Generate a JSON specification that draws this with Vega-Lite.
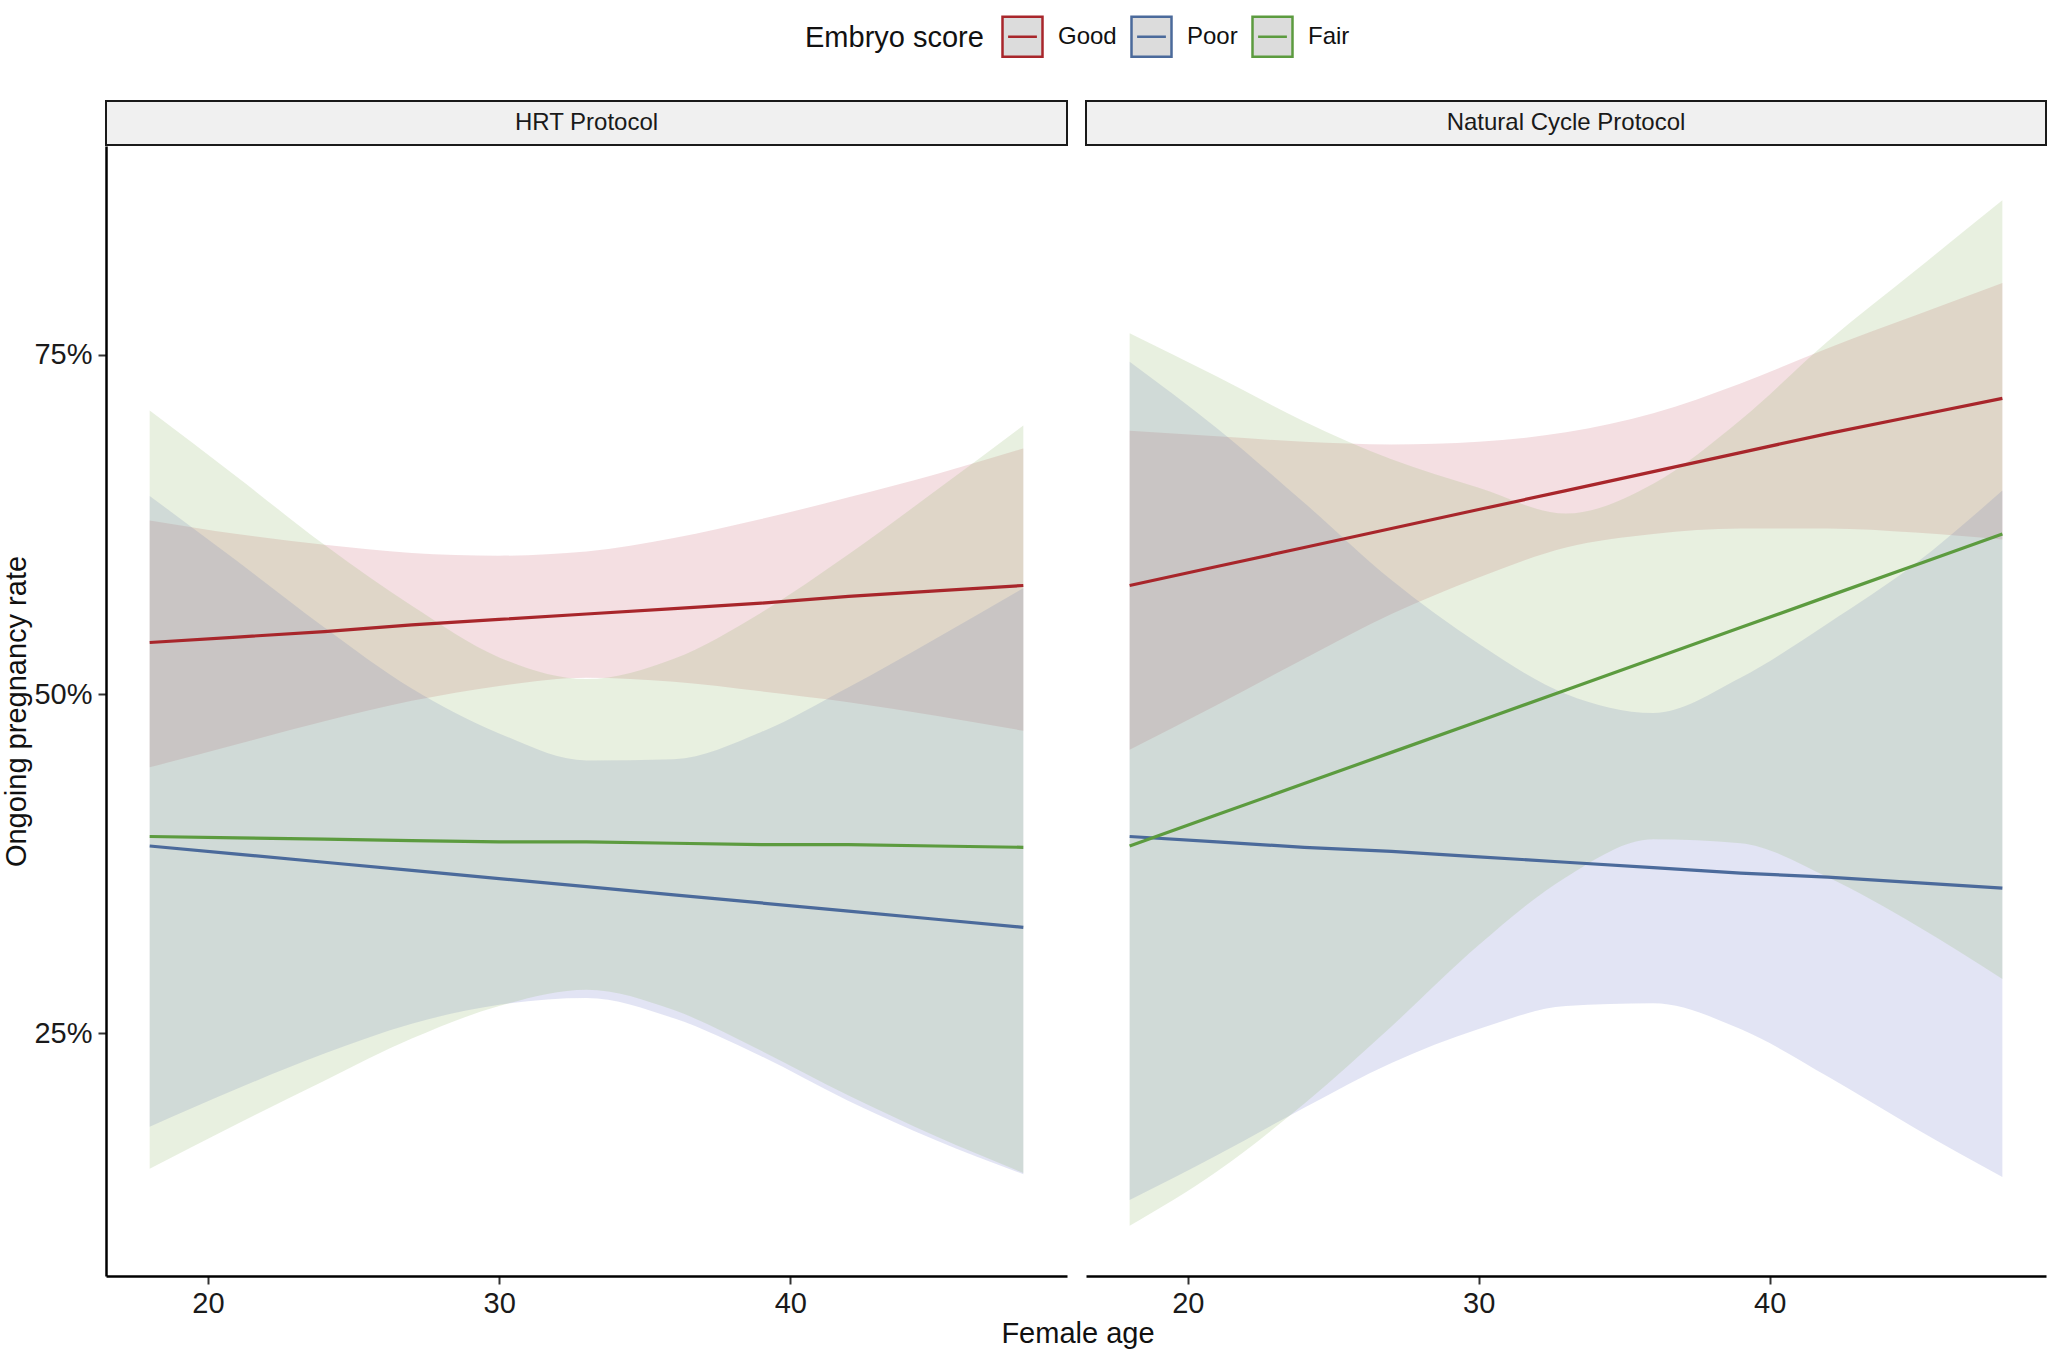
{
  "$schema": "https://vega.github.io/schema/vega-lite/v6.json",
  "padding": {"left": 2, "top": 15, "right": 3, "bottom": 2},
  "background": "white",
  "datasets": {
    "curves": [
      {"protocol": "HRT Protocol", "score": "Good", "age": 18, "fit": 0.538, "lo": 0.446, "hi": 0.628},
      {"protocol": "HRT Protocol", "score": "Good", "age": 21, "fit": 0.542, "lo": 0.463, "hi": 0.618},
      {"protocol": "HRT Protocol", "score": "Good", "age": 24, "fit": 0.546, "lo": 0.480, "hi": 0.610},
      {"protocol": "HRT Protocol", "score": "Good", "age": 27, "fit": 0.551, "lo": 0.495, "hi": 0.604},
      {"protocol": "HRT Protocol", "score": "Good", "age": 30, "fit": 0.555, "lo": 0.506, "hi": 0.602},
      {"protocol": "HRT Protocol", "score": "Good", "age": 33, "fit": 0.559, "lo": 0.512, "hi": 0.605},
      {"protocol": "HRT Protocol", "score": "Good", "age": 36, "fit": 0.563, "lo": 0.509, "hi": 0.615},
      {"protocol": "HRT Protocol", "score": "Good", "age": 39, "fit": 0.567, "lo": 0.502, "hi": 0.629},
      {"protocol": "HRT Protocol", "score": "Good", "age": 42, "fit": 0.572, "lo": 0.494, "hi": 0.645},
      {"protocol": "HRT Protocol", "score": "Good", "age": 45, "fit": 0.576, "lo": 0.484, "hi": 0.662},
      {"protocol": "HRT Protocol", "score": "Good", "age": 48, "fit": 0.580, "lo": 0.473, "hi": 0.681},
      {"protocol": "HRT Protocol", "score": "Poor", "age": 18, "fit": 0.388, "lo": 0.181, "hi": 0.646},
      {"protocol": "HRT Protocol", "score": "Poor", "age": 21, "fit": 0.382, "lo": 0.209, "hi": 0.598},
      {"protocol": "HRT Protocol", "score": "Poor", "age": 24, "fit": 0.376, "lo": 0.235, "hi": 0.549},
      {"protocol": "HRT Protocol", "score": "Poor", "age": 27, "fit": 0.370, "lo": 0.257, "hi": 0.504},
      {"protocol": "HRT Protocol", "score": "Poor", "age": 30, "fit": 0.364, "lo": 0.271, "hi": 0.471},
      {"protocol": "HRT Protocol", "score": "Poor", "age": 33, "fit": 0.358, "lo": 0.276, "hi": 0.451},
      {"protocol": "HRT Protocol", "score": "Poor", "age": 36, "fit": 0.352, "lo": 0.261, "hi": 0.452},
      {"protocol": "HRT Protocol", "score": "Poor", "age": 39, "fit": 0.346, "lo": 0.233, "hi": 0.472},
      {"protocol": "HRT Protocol", "score": "Poor", "age": 42, "fit": 0.340, "lo": 0.200, "hi": 0.505},
      {"protocol": "HRT Protocol", "score": "Poor", "age": 45, "fit": 0.334, "lo": 0.171, "hi": 0.541},
      {"protocol": "HRT Protocol", "score": "Poor", "age": 48, "fit": 0.328, "lo": 0.146, "hi": 0.578},
      {"protocol": "HRT Protocol", "score": "Fair", "age": 18, "fit": 0.395, "lo": 0.150, "hi": 0.709},
      {"protocol": "HRT Protocol", "score": "Fair", "age": 21, "fit": 0.394, "lo": 0.183, "hi": 0.660},
      {"protocol": "HRT Protocol", "score": "Fair", "age": 24, "fit": 0.393, "lo": 0.215, "hi": 0.610},
      {"protocol": "HRT Protocol", "score": "Fair", "age": 27, "fit": 0.392, "lo": 0.246, "hi": 0.565},
      {"protocol": "HRT Protocol", "score": "Fair", "age": 30, "fit": 0.391, "lo": 0.270, "hi": 0.527},
      {"protocol": "HRT Protocol", "score": "Fair", "age": 33, "fit": 0.391, "lo": 0.282, "hi": 0.511},
      {"protocol": "HRT Protocol", "score": "Fair", "age": 36, "fit": 0.390, "lo": 0.267, "hi": 0.526},
      {"protocol": "HRT Protocol", "score": "Fair", "age": 39, "fit": 0.389, "lo": 0.237, "hi": 0.560},
      {"protocol": "HRT Protocol", "score": "Fair", "age": 42, "fit": 0.389, "lo": 0.204, "hi": 0.603},
      {"protocol": "HRT Protocol", "score": "Fair", "age": 45, "fit": 0.388, "lo": 0.174, "hi": 0.650},
      {"protocol": "HRT Protocol", "score": "Fair", "age": 48, "fit": 0.387, "lo": 0.147, "hi": 0.698},
      {"protocol": "Natural Cycle Protocol", "score": "Good", "age": 18, "fit": 0.580, "lo": 0.459, "hi": 0.694},
      {"protocol": "Natural Cycle Protocol", "score": "Good", "age": 21, "fit": 0.594, "lo": 0.492, "hi": 0.690},
      {"protocol": "Natural Cycle Protocol", "score": "Good", "age": 24, "fit": 0.608, "lo": 0.526, "hi": 0.686},
      {"protocol": "Natural Cycle Protocol", "score": "Good", "age": 27, "fit": 0.622, "lo": 0.559, "hi": 0.684},
      {"protocol": "Natural Cycle Protocol", "score": "Good", "age": 30, "fit": 0.636, "lo": 0.586, "hi": 0.686},
      {"protocol": "Natural Cycle Protocol", "score": "Good", "age": 33, "fit": 0.650, "lo": 0.608, "hi": 0.693},
      {"protocol": "Natural Cycle Protocol", "score": "Good", "age": 36, "fit": 0.664, "lo": 0.618, "hi": 0.707},
      {"protocol": "Natural Cycle Protocol", "score": "Good", "age": 39, "fit": 0.678, "lo": 0.622, "hi": 0.729},
      {"protocol": "Natural Cycle Protocol", "score": "Good", "age": 42, "fit": 0.692, "lo": 0.622, "hi": 0.755},
      {"protocol": "Natural Cycle Protocol", "score": "Good", "age": 45, "fit": 0.705, "lo": 0.619, "hi": 0.779},
      {"protocol": "Natural Cycle Protocol", "score": "Good", "age": 48, "fit": 0.718, "lo": 0.614, "hi": 0.803},
      {"protocol": "Natural Cycle Protocol", "score": "Poor", "age": 18, "fit": 0.395, "lo": 0.127, "hi": 0.745},
      {"protocol": "Natural Cycle Protocol", "score": "Poor", "age": 21, "fit": 0.391, "lo": 0.160, "hi": 0.696},
      {"protocol": "Natural Cycle Protocol", "score": "Poor", "age": 24, "fit": 0.387, "lo": 0.195, "hi": 0.641},
      {"protocol": "Natural Cycle Protocol", "score": "Poor", "age": 27, "fit": 0.384, "lo": 0.228, "hi": 0.584},
      {"protocol": "Natural Cycle Protocol", "score": "Poor", "age": 30, "fit": 0.380, "lo": 0.253, "hi": 0.537},
      {"protocol": "Natural Cycle Protocol", "score": "Poor", "age": 33, "fit": 0.376, "lo": 0.270, "hi": 0.500},
      {"protocol": "Natural Cycle Protocol", "score": "Poor", "age": 36, "fit": 0.372, "lo": 0.272, "hi": 0.486},
      {"protocol": "Natural Cycle Protocol", "score": "Poor", "age": 39, "fit": 0.368, "lo": 0.253, "hi": 0.512},
      {"protocol": "Natural Cycle Protocol", "score": "Poor", "age": 42, "fit": 0.365, "lo": 0.218, "hi": 0.552},
      {"protocol": "Natural Cycle Protocol", "score": "Poor", "age": 45, "fit": 0.361, "lo": 0.180, "hi": 0.596},
      {"protocol": "Natural Cycle Protocol", "score": "Poor", "age": 48, "fit": 0.357, "lo": 0.144, "hi": 0.650},
      {"protocol": "Natural Cycle Protocol", "score": "Fair", "age": 18, "fit": 0.388, "lo": 0.108, "hi": 0.766},
      {"protocol": "Natural Cycle Protocol", "score": "Fair", "age": 21, "fit": 0.411, "lo": 0.148, "hi": 0.734},
      {"protocol": "Natural Cycle Protocol", "score": "Fair", "age": 24, "fit": 0.434, "lo": 0.198, "hi": 0.701},
      {"protocol": "Natural Cycle Protocol", "score": "Fair", "age": 27, "fit": 0.457, "lo": 0.255, "hi": 0.673},
      {"protocol": "Natural Cycle Protocol", "score": "Fair", "age": 30, "fit": 0.480, "lo": 0.315, "hi": 0.652},
      {"protocol": "Natural Cycle Protocol", "score": "Fair", "age": 33, "fit": 0.503, "lo": 0.365, "hi": 0.633},
      {"protocol": "Natural Cycle Protocol", "score": "Fair", "age": 36, "fit": 0.526, "lo": 0.393, "hi": 0.655},
      {"protocol": "Natural Cycle Protocol", "score": "Fair", "age": 39, "fit": 0.549, "lo": 0.390, "hi": 0.702},
      {"protocol": "Natural Cycle Protocol", "score": "Fair", "age": 42, "fit": 0.572, "lo": 0.365, "hi": 0.760},
      {"protocol": "Natural Cycle Protocol", "score": "Fair", "age": 45, "fit": 0.595, "lo": 0.330, "hi": 0.812},
      {"protocol": "Natural Cycle Protocol", "score": "Fair", "age": 48, "fit": 0.618, "lo": 0.290, "hi": 0.864}
    ]
  },
  "title": {"text": "Female age", "orient": "bottom", "anchor": "middle", "frame": "bounds", "dx": 53, "fontSize": 29, "fontWeight": "normal", "font": "Liberation Sans", "color": "#111111", "offset": 2},
  "columns": 2,
  "spacing": {"row": 0, "column": 17},
  "concat": [
    {
      "width": 961, "height": 44,
      "view": {"fill": "#f0f0f0", "stroke": "#1a1a1a", "strokeWidth": 2},
      "data": {"values": [{"label": "HRT Protocol"}]},
      "mark": {"type": "text", "fontSize": 24, "font": "Liberation Sans", "color": "#1a1a1a", "baseline": "middle", "align": "center"},
      "encoding": {"text": {"field": "label"}}
    },
    {
      "width": 960, "height": 44,
      "view": {"fill": "#f0f0f0", "stroke": "#1a1a1a", "strokeWidth": 2},
      "data": {"values": [{"label": "Natural Cycle Protocol"}]},
      "mark": {"type": "text", "fontSize": 24, "font": "Liberation Sans", "color": "#1a1a1a", "baseline": "middle", "align": "center"},
      "encoding": {"text": {"field": "label"}}
    },
    {
      "width": 961, "height": 1130,
      "view": {"stroke": null},
      "data": {"name": "curves"},
      "transform": [{"filter": "datum.protocol === 'HRT Protocol'"}],
      "layer": [
        {
          "mark": {"type": "area", "interpolate": "monotone", "opacity": 0.2},
          "encoding": {
            "x": {"field": "age", "type": "quantitative", "scale": {"domain": [16.5, 49.5], "nice": false, "zero": false},
                  "axis": {"values": [20, 30, 40], "title": null}},
            "y": {"field": "lo", "type": "quantitative", "scale": {"domain": [0.071, 0.904], "nice": false, "zero": false},
                  "axis": {"values": [0.25, 0.5, 0.75], "format": ".0%", "title": "Ongoing pregnancy rate"}},
            "y2": {"field": "hi"},
            "fill": {"field": "score", "type": "nominal", "scale": {"domain": ["Fair", "Good", "Poor"], "range": ["#8CB464", "#C85F6E", "#6E78C8"]}, "legend": null}
          }
        },
        {
          "mark": {"type": "line", "interpolate": "linear", "strokeWidth": 3.2},
          "encoding": {
            "x": {"field": "age", "type": "quantitative"},
            "y": {"field": "fit", "type": "quantitative"},
            "stroke": {"field": "score", "type": "nominal", "scale": {"domain": ["Good", "Poor", "Fair"], "range": ["#A8262B", "#4B6A9B", "#5C9B3F"]},
              "legend": {
                "title": "Embryo score", "orient": "none", "legendX": 699, "legendY": -86, "direction": "horizontal", "titleOrient": "left",
                "titleAnchor": "middle", "titleBaseline": "middle",
                "titleFontSize": 29, "titleFontWeight": "normal", "titleFont": "Liberation Sans", "titleColor": "#111111",
                "labelFontSize": 24, "labelFont": "Liberation Sans", "labelColor": "#111111",
                "symbolType": "M-1,-1H1V1H-1Z M-0.72,0H0.72", "symbolSize": 1600, "symbolStrokeWidth": 2.5,
                "labelOffset": 14, "columnPadding": 9, "titlePadding": 17,
                "encode": {"symbols": {"update": {
                  "fill": {"value": "#dcdcdc"},
                  "stroke": {"signal": "datum.value === 'Good' ? '#D42A2E' : datum.value === 'Poor' ? '#3B7CB6' : '#4EA84A'"},
                  "opacity": {"value": 1}
                }}}
              }
            }
          }
        }
      ]
    },
    {
      "width": 960, "height": 1130,
      "view": {"stroke": null},
      "data": {"name": "curves"},
      "transform": [{"filter": "datum.protocol === 'Natural Cycle Protocol'"}],
      "layer": [
        {
          "mark": {"type": "area", "interpolate": "monotone", "opacity": 0.2},
          "encoding": {
            "x": {"field": "age", "type": "quantitative", "scale": {"domain": [16.5, 49.5], "nice": false, "zero": false},
                  "axis": {"values": [20, 30, 40], "title": null}},
            "y": {"field": "lo", "type": "quantitative", "scale": {"domain": [0.071, 0.904], "nice": false, "zero": false}, "axis": null},
            "y2": {"field": "hi"},
            "fill": {"field": "score", "type": "nominal", "scale": {"domain": ["Fair", "Good", "Poor"], "range": ["#8CB464", "#C85F6E", "#6E78C8"]}, "legend": null}
          }
        },
        {
          "mark": {"type": "line", "interpolate": "linear", "strokeWidth": 3.2},
          "encoding": {
            "x": {"field": "age", "type": "quantitative"},
            "y": {"field": "fit", "type": "quantitative"},
            "stroke": {"field": "score", "type": "nominal", "scale": {"domain": ["Good", "Poor", "Fair"], "range": ["#A8262B", "#4B6A9B", "#5C9B3F"]},
              "legend": {
                "title": "Embryo score", "orient": "none", "legendX": 699, "legendY": -86, "direction": "horizontal", "titleOrient": "left",
                "titleAnchor": "middle", "titleBaseline": "middle",
                "titleFontSize": 29, "titleFontWeight": "normal", "titleFont": "Liberation Sans", "titleColor": "#111111",
                "labelFontSize": 24, "labelFont": "Liberation Sans", "labelColor": "#111111",
                "symbolType": "M-1,-1H1V1H-1Z M-0.72,0H0.72", "symbolSize": 1600, "symbolStrokeWidth": 2.5,
                "labelOffset": 14, "columnPadding": 9, "titlePadding": 17,
                "encode": {"symbols": {"update": {
                  "fill": {"value": "#dcdcdc"},
                  "stroke": {"signal": "datum.value === 'Good' ? '#D42A2E' : datum.value === 'Poor' ? '#3B7CB6' : '#4EA84A'"},
                  "opacity": {"value": 1}
                }}}
              }
            }
          }
        }
      ]
    }
  ],
  "resolve": {"scale": {"stroke": "shared", "fill": "shared"}, "legend": {"stroke": "shared"}},
  "config": {
    "font": "Liberation Sans",
    "view": {"stroke": null},
    "axis": {
      "grid": false,
      "domainColor": "#000000", "domainWidth": 2.5,
      "tickColor": "#333333", "tickWidth": 2, "tickSize": 8,
      "labelFontSize": 29, "labelColor": "#1a1a1a", "labelFont": "Liberation Sans",
      "titleFontSize": 29, "titleFontWeight": "normal", "titleColor": "#111111", "titleFont": "Liberation Sans"
    },
    "axisX": {"labelPadding": 5},
    "axisY": {"labelPadding": 6, "titlePadding": 2}
  }
}
